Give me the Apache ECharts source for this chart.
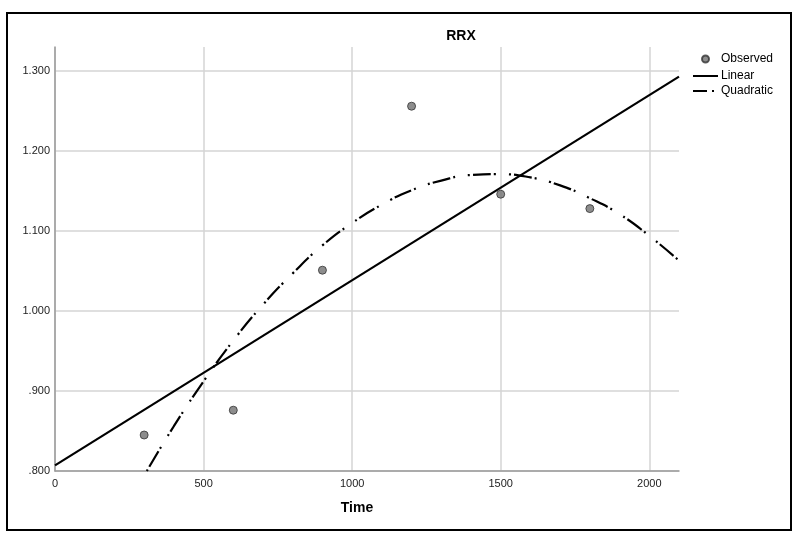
<!DOCTYPE html>
<html>
<head>
<meta charset="utf-8">
<script src="https://cdn.jsdelivr.net/npm/echarts@6/dist/echarts.min.js"></script>
<style>
  html, body { margin: 0; padding: 0; background: #fff; }
  #chart { width: 793px; height: 533px; }
</style>
</head>
<body>
<div id="chart"></div>
<script>
// observed values (Time, RRX)
const observed = [[300, 0.845], [600, 0.876], [900, 1.051], [1200, 1.256], [1500, 1.146], [1800, 1.128]];
// fitted lines
const linearFit = [[0, 0.807], [2100, 1.293]];
const quadraticFit = [
    [309, 0.800], [400, 0.856], [500, 0.912], [600, 0.963], [700, 1.008],
    [800, 1.047], [900, 1.082], [1000, 1.110], [1100, 1.133], [1200, 1.151],
    [1300, 1.163], [1400, 1.170], [1500, 1.171], [1600, 1.167], [1700, 1.157],
    [1800, 1.141], [1900, 1.121], [2000, 1.094], [2100, 1.063]
];
const xTicks = [0, 500, 1000, 1500, 2000];
const yTicks = [0.8, 0.9, 1.0, 1.1, 1.2, 1.3];

const chart = echarts.init(document.getElementById('chart'));

const font = 'Liberation Sans, Arial, sans-serif';

function fmtY(v) {
    const s = v.toFixed(3);
    return s.startsWith('0') ? s.slice(1) : s;
}

chart.setOption({
    animation: false,
    title: [
        { text: 'RRX', left: 456, top: 24, textAlign: 'center',
          textStyle: { fontFamily: font, fontSize: 14, fontWeight: 'bold', color: '#000' } },
        { text: 'Time', left: 352, top: 496, textAlign: 'center',
          textStyle: { fontFamily: font, fontSize: 14, fontWeight: 'bold', color: '#000' } }
    ],
    graphic: [{
        type: 'rect',
        shape: { x: 7, y: 13, width: 784, height: 517 },
        style: { fill: 'none', stroke: '#000', lineWidth: 2 },
        silent: true
    }],
    legend: {
        orient: 'vertical',
        left: 687,
        top: 46,
        itemWidth: 25,
        itemHeight: 14,
        itemGap: 3,
        textStyle: { fontFamily: font, fontSize: 12, color: '#000', padding: [0, 0, 0, -2] },
        data: [
            { name: 'Observed', icon: 'path://M0,0 M20,20 M5,10 a5,5 0 1,0 10,0 a5,5 0 1,0 -10,0z' },
            { name: 'Linear', itemStyle: { opacity: 0 } },
            { name: 'Quadratic', itemStyle: { opacity: 0 }, lineStyle: { type: [14, 5, 2, 10] } }
        ]
    },
    grid: { left: 55, right: 114, top: 47, bottom: 62 },
    xAxis: {
        type: 'value',
        min: 0,
        max: 2100,
        interval: 500,
        axisLine: { show: true, lineStyle: { color: '#9a9a9a', width: 1.5 } },
        axisTick: { show: false, customValues: xTicks },
        axisLabel: { customValues: xTicks, fontFamily: font, fontSize: 11, color: '#222', margin: 7,
                     formatter: v => String(v) },
        splitLine: { show: true, lineStyle: { color: '#d4d4d4', width: 1.5 } }
    },
    yAxis: {
        type: 'value',
        min: 0.8,
        max: 1.33,
        interval: 0.1,
        axisLine: { show: true, lineStyle: { color: '#9a9a9a', width: 1.5 } },
        axisTick: { show: false, customValues: yTicks },
        axisLabel: { customValues: yTicks, fontFamily: font, fontSize: 11, color: '#222', margin: 5, formatter: fmtY },
        splitLine: { show: true, lineStyle: { color: '#d4d4d4', width: 1.5 } }
    },
    series: [
        {
            name: 'Observed',
            type: 'scatter',
            data: observed,
            symbol: 'circle',
            symbolSize: 8,
            z: 5,
            itemStyle: { color: '#707070', borderColor: '#333', borderWidth: 1 }
        },
        {
            name: 'Linear',
            type: 'line',
            data: linearFit,
            symbol: 'none',
            z: 3,
            itemStyle: { color: '#000' },
            lineStyle: { color: '#000', width: 2.2 }
        },
        {
            name: 'Quadratic',
            type: 'line',
            data: quadraticFit,
            symbol: 'none',
            smooth: true,
            z: 3,
            itemStyle: { color: '#000' },
            lineStyle: { color: '#000', width: 2.2, type: [2, 3, 18, 3, 2, 13] }
        }
    ]
});
</script>
</body>
</html>
